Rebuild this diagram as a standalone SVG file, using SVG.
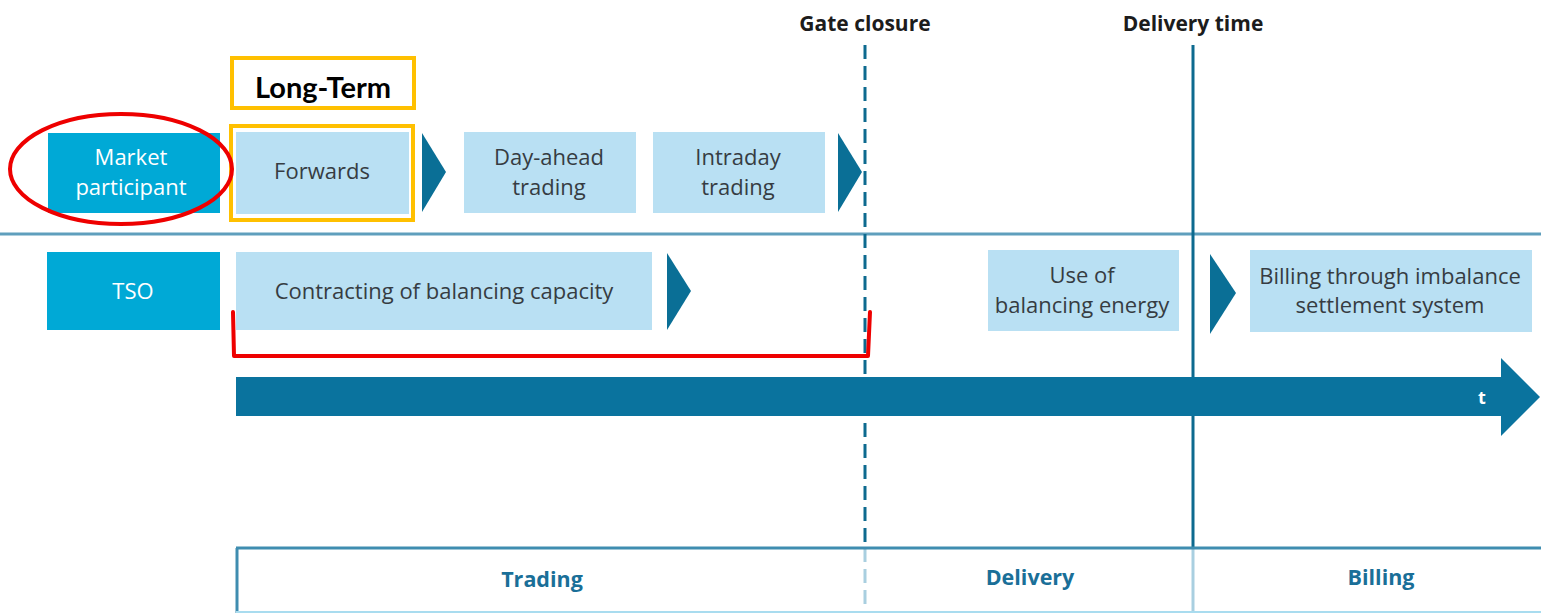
<svg xmlns="http://www.w3.org/2000/svg" width="1541" height="613" viewBox="0 0 1541 613">
<style>
.role{fill:#00a9d6}
.step{fill:#b9e0f3}
.tri{fill:#0a6f96}
.t{font-family:"Open Sans","Noto Sans",sans-serif;font-size:22px;text-anchor:middle}
.dark{fill:#363c42}
.white{fill:#ffffff}
.head{font-family:"Open Sans","Noto Sans",sans-serif;font-size:21px;font-weight:bold;fill:#1c1c1c;text-anchor:middle}
.phase{font-family:"Open Sans","Noto Sans",sans-serif;font-size:21.5px;font-weight:bold;fill:#1a6f98;text-anchor:middle}
.ann{fill:none;stroke:#ffc000;stroke-width:4}
.red{fill:none;stroke:#ee0000;stroke-width:4;stroke-linejoin:round;stroke-linecap:round}
</style>
<rect width="1541" height="613" fill="#ffffff"/>

<g id="separators">
<line x1="0" y1="234" x2="1541" y2="234" stroke="#5f9fbd" stroke-width="3"/>
</g>

<g id="markers">
<line x1="865" y1="45" x2="865" y2="548" stroke="#0d6a8f" stroke-width="3" stroke-dasharray="14,7"/>
<line x1="865" y1="548" x2="865" y2="613" stroke="#a9cfe0" stroke-width="3" stroke-dasharray="14,7"/>
<line x1="1193" y1="45" x2="1193" y2="548" stroke="#0d6a8f" stroke-width="3"/>
<line x1="1193" y1="548" x2="1193" y2="613" stroke="#a9cfe0" stroke-width="3"/>
<text class="head" x="865" y="31">Gate closure</text>
<text class="head" x="1193" y="31">Delivery time</text>
</g>

<g id="market-participant">
<rect class="role" x="48" y="133" width="172" height="80"/>
<text class="t white" x="131" y="165">Market</text>
<text class="t white" x="131" y="195">participant</text>
</g>
<g id="forwards">
<rect class="step" x="236" y="132" width="173" height="82"/>
<text class="t dark" x="322" y="179">Forwards</text>
</g>
<g id="day-ahead">
<rect class="step" x="464" y="132" width="172" height="81"/>
<text class="t dark" x="549" y="165">Day-ahead</text>
<text class="t dark" x="549" y="195">trading</text>
</g>
<g id="intraday">
<rect class="step" x="653" y="132" width="172" height="81"/>
<text class="t dark" x="738" y="165">Intraday</text>
<text class="t dark" x="738" y="195">trading</text>
</g>
<g id="tso">
<rect class="role" x="47" y="252" width="173" height="78"/>
<text class="t white" x="133" y="299">TSO</text>
</g>
<g id="contracting">
<rect class="step" x="236" y="252" width="416" height="78"/>
<text class="t dark" x="444" y="299">Contracting of balancing capacity</text>
</g>
<g id="use-of-balancing">
<rect class="step" x="988" y="250" width="191" height="81"/>
<text class="t dark" x="1082" y="283">Use of</text>
<text class="t dark" x="1082" y="313">balancing energy</text>
</g>
<g id="billing-imbalance">
<rect class="step" x="1250" y="250" width="282" height="82"/>
<text class="t dark" x="1390" y="284">Billing through imbalance</text>
<text class="t dark" x="1390" y="313">settlement system</text>
</g>

<g id="connectors">
<polygon class="tri" points="422,133 446,172 422,212"/>
<polygon class="tri" points="838,133 862,172 838,212"/>
<polygon class="tri" points="667,253 691,291 667,330"/>
<polygon class="tri" points="1210,254 1236,293 1210,334"/>
</g>

<g id="timeline">
<polygon fill="#0a739e" points="236,377 1501,377 1501,358 1540,397 1501,436 1501,416 236,416"/>
<text x="1482" y="404" font-family="'Open Sans','Noto Sans',sans-serif" font-size="18" font-weight="bold" fill="#ffffff" text-anchor="middle">t</text>
</g>

<g id="phases">
<line x1="236" y1="548" x2="1541" y2="548" stroke="#3f8db0" stroke-width="3"/>
<line x1="237" y1="548" x2="237" y2="613" stroke="#3f8db0" stroke-width="3"/>
<line x1="236" y1="612" x2="1541" y2="612" stroke="#a9dcef" stroke-width="2"/>
<text class="phase" x="542" y="587">Trading</text>
<text class="phase" x="1030" y="585">Delivery</text>
<text class="phase" x="1381" y="585">Billing</text>
</g>

<g id="annotations">
<rect class="ann" x="232" y="58" width="182" height="50"/>
<text x="323" y="98" font-family="Lato,'Open Sans',sans-serif" font-size="29" font-weight="bold" fill="#000000" text-anchor="middle">Long-Term</text>
<rect class="ann" x="231" y="126" width="182" height="94"/>
<ellipse class="red" cx="121" cy="169" rx="111" ry="55"/>
<path class="red" d="M233,312 L234,356 L868,356 L870,312"/>
</g>
</svg>
